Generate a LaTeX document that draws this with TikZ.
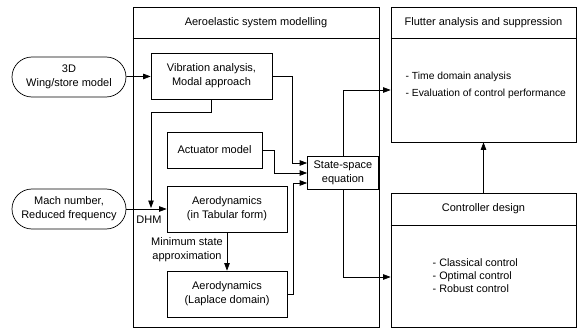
\documentclass[tikz,border=0pt]{standalone}
\usepackage{fontspec}
\setmainfont{Liberation Sans}
\usetikzlibrary{arrows.meta}
\begin{document}
\begin{tikzpicture}[x=1pt, y=-1pt, line width=0.7pt,
  every node/.style={font=\fontsize{11}{14}\selectfont},
  blk/.style={draw, rectangle, align=center, inner sep=0pt},
  oval/.style={draw, rectangle, rounded corners=20pt, align=center, inner sep=0pt, minimum width=114pt, minimum height=40pt},
  frame/.style={draw, rectangle, inner sep=0pt},
  item/.style={anchor=west, align=left, font=\fontsize{10.3}{13}\selectfont},
  arr/.style={-{Triangle[length=7.5pt,width=5.5pt]}}]
\useasboundingbox (0,0) rectangle (582,329);
\node[frame, minimum width=246pt, minimum height=320pt] (sysbox) at (256,167){};
\node[frame, minimum width=185pt, minimum height=135pt] (flbox) at (483.5,74.5){};
\node[frame, minimum width=185pt, minimum height=134pt] (ctbox) at (483.5,260){};
\draw[](sysbox.west |- 0,38) -- (sysbox.east |- 0,38);
\draw[](flbox.west |- 0,38) -- (flbox.east |- 0,38);
\draw[](ctbox.west |- 0,225) -- (ctbox.east |- 0,225);
\node[] (systitle) at (256,23){Aeroelastic system modelling};
\node[] (fltitle) at (483.5,23){Flutter analysis and suppression};
\node[] (cttitle) at (483.5,209){Controller design};
\node[item] (fltext1) at (402,77){- Time domain analysis};
\node[item] (fltext2) at (402,94){- Evaluation of control performance};
\node[item, font=\fontsize{10.8}{13}\selectfont] (cttext) at (429,276){- Classical control\\- Optimal control\\- Robust control};
\node[oval] (wing) at (69,77){3D\\Wing/store model};
\node[oval] (mach) at (69,209){Mach number,\\Reduced frequency};
\node[blk, minimum width=121pt, minimum height=46pt] (vib) at (211.5,76){Vibration analysis,\\Modal approach};
\node[blk, minimum width=95pt, minimum height=36pt] (act) at (214.5,150){Actuator model};
\node[blk, minimum width=120pt, minimum height=46pt] (aerot) at (227,209){Aerodynamics\\(in Tabular form)};
\node[blk, minimum width=120pt, minimum height=46pt] (aerol) at (227,294){Aerodynamics\\(Laplace domain)};
\node[blk, minimum width=71pt, minimum height=33pt] (ss) at (343,173){State-space\\equation};
\coordinate (dhmpt) at (151,208);
\node[] (dhm) at (149,220){DHM};
\node[align=center] (msa) at (187,250){Minimum state\\approximation};
\draw[arr](wing) -- (vib);
\draw[arr](mach) -- (aerot);
\draw[arr](vib.south) -- ++(0,13) -| (dhmpt);
\draw[arr](aerot) -- (aerol);
\draw[arr](vib.east) -- ++(20,0) |- ([yshift=10pt]ss.west);
\draw[arr](act.east) -- ++(12,0) |- (ss.west);
\draw[arr](aerol.east) -- ++(6,0) |- ([yshift=-10pt]ss.west);
\draw[arr](ss.north) |- ([yshift=-15.5pt]flbox.west);
\draw[arr](ss.south) |- ([yshift=-17pt]ctbox.west);
\draw[arr](ctbox.north) -- (flbox.south);
\end{tikzpicture}
\end{document}
